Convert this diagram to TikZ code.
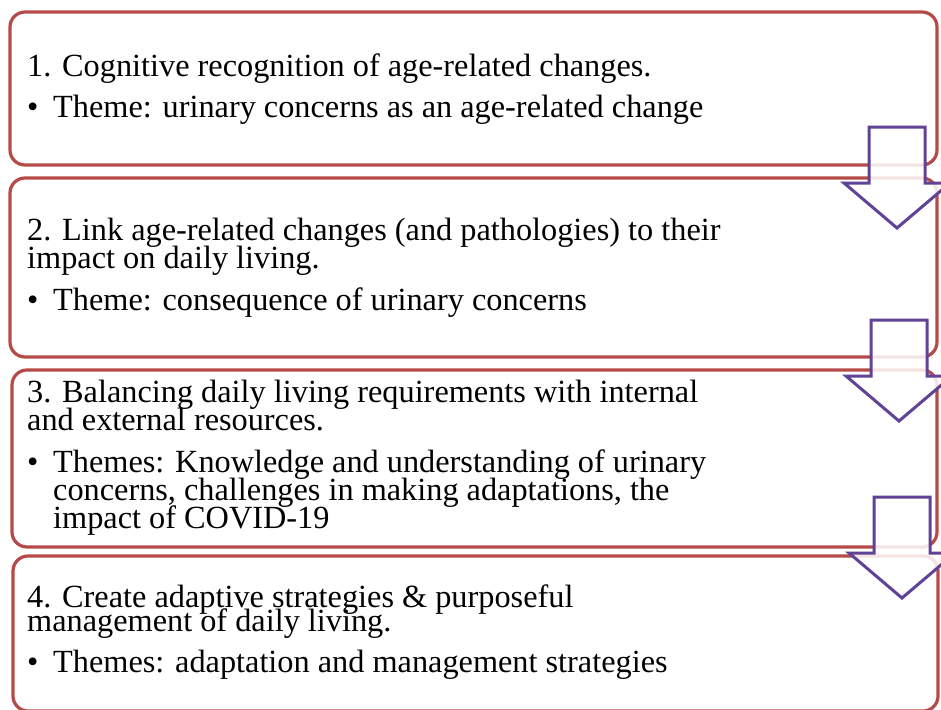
\documentclass[tikz,border=0pt]{standalone}
\usepackage{fontspec}
\setmainfont{Liberation Serif}
\definecolor{stageborder}{RGB}{182,74,72}
\definecolor{arrowpurple}{RGB}{96,66,150}
% body text size with a fixed line pitch
\newcommand{\stagefont}[1]{\fontsize{32.3}{#1}\selectfont\lineskiplimit=-100pt\lineskip=0pt}
\begin{document}
\begin{tikzpicture}[x=1pt,y=-1pt,
  stage/.style={draw=stageborder, line width=3.2pt, rounded corners=15pt,
                fill=white, inner sep=0pt},
  % multi-line texts are placed by the baseline of their last line
  txt/.style={anchor=base west, inner sep=0pt, align=left, font=\stagefont{28}},
  flowarrow/.style={draw=arrowpurple, line width=3pt, fill=white,
                    fill opacity=0.85, line join=miter},
  downarrow/.pic={\path[flowarrow] (-28,-101) -- (28,-101) -- (28,-45) -- (53,-45)
                   -- (0,0) -- (-53,-45) -- (-28,-45) -- cycle;}
]
\clip (0,0) rectangle (941,709);
\fill[white] (0,0) rectangle (941,709);

% the four stages
\node[stage, minimum width=927pt, minimum height=153pt] (s1) at (473.5,88.5) {};
\node[stage, minimum width=927pt, minimum height=179pt] (s2) at (473.5,267.5) {};
\node[stage, minimum width=925pt, minimum height=177pt] (s3) at (474.5,458.5) {};
\node[stage, minimum width=925pt, minimum height=155pt] (s4) at (475.5,633.5) {};

% stage 1
\node[txt] (s1h) at (27,76) {1. Cognitive recognition of age-related changes.};
\node[txt] (s1b) at (27,117) {\textbullet};
\node[txt] (s1t) at (53,117) {Theme: urinary concerns as an age-related change};

% stage 2
\node[txt] (s2h) at (27,268) {2. Link age-related changes (and pathologies) to their\\
  impact on daily living.};
\node[txt] (s2b) at (27,310) {\textbullet};
\node[txt] (s2t) at (53,310) {Theme: consequence of urinary concerns};

% stage 3
\node[txt] (s3h) at (27,430) {3. Balancing daily living requirements with internal\\
  and external resources.};
\node[txt] (s3b) at (27,472) {\textbullet};
\node[txt] (s3t) at (53,528) {Themes: Knowledge and understanding of urinary\\
  concerns, challenges in making adaptations, the\\
  impact of COVID-19};

% stage 4
\node[txt, font=\stagefont{24}] (s4h) at (27,631) {4. Create adaptive strategies \& purposeful\\
  management of daily living.};
\node[txt] (s4b) at (27,672) {\textbullet};
\node[txt] (s4t) at (53,672) {Themes: adaptation and management strategies};

% transition arrows between stages
\pic (a1) at (897,228) {downarrow};
\pic (a2) at (899,421) {downarrow};
\pic (a3) at (902,598) {downarrow};
\end{tikzpicture}
\end{document}
